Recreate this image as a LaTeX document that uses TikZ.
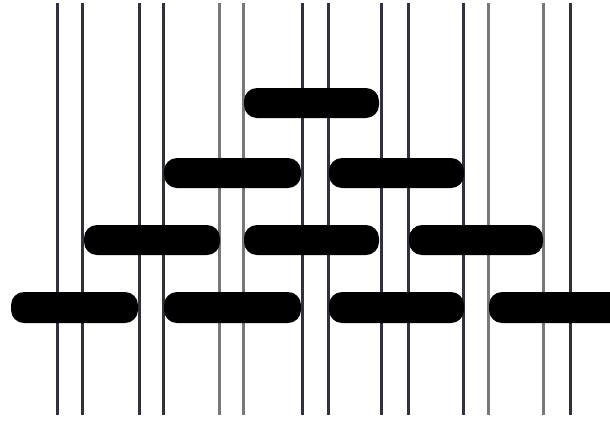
\documentclass[tikz,border=0pt]{standalone}
\definecolor{darkln}{RGB}{48,48,62}
\definecolor{greyln}{RGB}{120,120,124}
\begin{document}
\begin{tikzpicture}[x=1pt,y=-1pt,
  darkline/.style={draw=darkln, line width=3pt},
  greyline/.style={draw=greyln, line width=3pt},
  blob/.style={fill=black, rounded corners=13pt}]
\useasboundingbox (0,0) rectangle (610,421);
\clip (0,0) rectangle (610,421);
\fill[white] (0,0) rectangle (610,421);
% vertical lines
\foreach \x in {57,82,139,163,302,328,381,408,463,570}
  \draw[darkline] (\x,3) -- (\x,415);
\foreach \x in {219,243,488,543}
  \draw[greyline] (\x,3) -- (\x,415);
% row 1
\fill[blob] (244,88) rectangle (379,118);
% row 2
\fill[blob] (164,158) rectangle (301,188);
\fill[blob] (329,158) rectangle (464,188);
% row 3
\fill[blob] (84,225) rectangle (220,255);
\fill[blob] (244,225) rectangle (379,255);
\fill[blob] (409,225) rectangle (543,255);
% row 4
\fill[blob] (11,292) rectangle (138,323);
\fill[blob] (164,292) rectangle (301,323);
\fill[blob] (329,292) rectangle (464,323);
\fill[blob] (489,292) rectangle (630,323);
\end{tikzpicture}
\end{document}
